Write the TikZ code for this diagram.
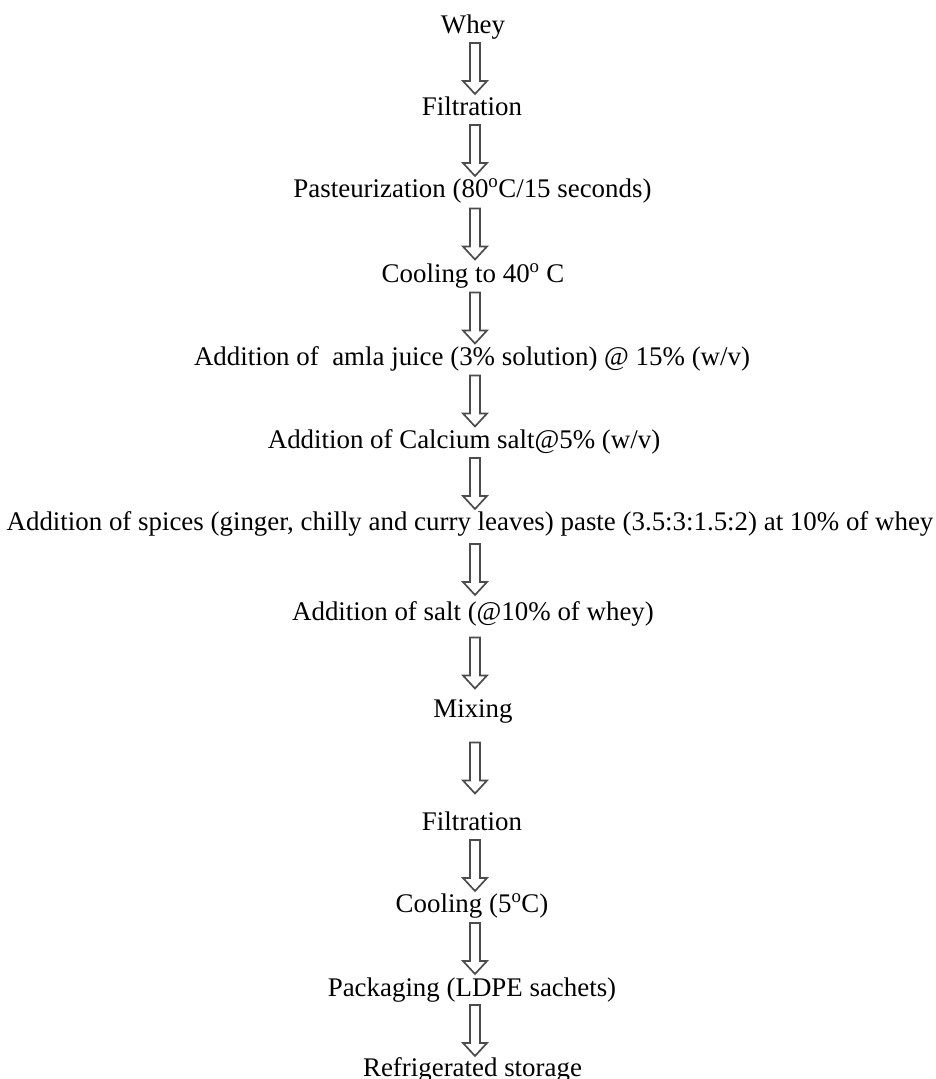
\documentclass[tikz,border=0pt]{standalone}
\usepackage{fontspec}
\setmainfont{Liberation Serif}
\usetikzlibrary{calc}

\newcommand{\degsign}{\textsuperscript{o}}
%% hollow block arrow, centred in the gap between two steps
\newcommand{\flowarrow}[2]{%
  \draw[hollow] let \p1=($(#1.south)!0.5!(#2.north)$) in
    (470pt,\y1+25pt) -- (470pt,\y1-13pt) -- (463pt,\y1-13pt)
    -- (475pt,\y1-26pt) -- (487pt,\y1-13pt) -- (480pt,\y1-13pt)
    -- (480pt,\y1+25pt) -- cycle;}

\begin{document}
\begin{tikzpicture}[x=1pt,y=1pt,
    stage/.style={anchor=base,inner sep=0pt,text height=18pt,text depth=6pt,
      font=\fontsize{26.9}{30}\selectfont},
    hollow/.style={draw=black!70,line width=1.7pt,line join=miter}]
  \useasboundingbox (0,0) rectangle (936,-1079);
  %% Steps
  \node[stage] (whey)  at (473,-33)   {Whey};
  \node[stage] (filt)  at (472,-115)  {Filtration};
  \node[stage] (past)  at (472.5,-197) {Pasteurization (80\degsign C/15 seconds)};
  \node[stage] (cool)  at (473,-282)  {Cooling to 40\degsign\ C};
  \node[stage] (amla)  at (472,-365)  {Addition of \ amla juice (3\% solution) @ 15\% (w/v)};
  \node[stage] (calc)  at (464,-448)  {Addition of Calcium salt@5\% (w/v)};
  \node[stage] (spice) at (470,-530)  {Addition of spices (ginger, chilly and curry leaves) paste (3.5:3:1.5:2) at 10\% of whey};
  \node[stage] (salt)  at (473,-620)  {Addition of salt (@10\% of whey)};
  \node[stage] (mix)   at (473,-717)  {Mixing};
  \node[stage] (filtb) at (472,-830)  {Filtration};
  \node[stage] (coolb) at (472,-912)  {Cooling (5\degsign C)};
  \node[stage] (pack)  at (472,-996)  {Packaging (LDPE sachets)};
  \node[stage] (store) at (472.5,-1076) {Refrigerated storage};
  %% Arrows
  \flowarrow{whey}{filt}
  \flowarrow{filt}{past}
  \flowarrow{past}{cool}
  \flowarrow{cool}{amla}
  \flowarrow{amla}{calc}
  \flowarrow{calc}{spice}
  \flowarrow{spice}{salt}
  \flowarrow{salt}{mix}
  \flowarrow{mix}{filtb}
  \flowarrow{filtb}{coolb}
  \flowarrow{coolb}{pack}
  \flowarrow{pack}{store}
\end{tikzpicture}
\end{document}
